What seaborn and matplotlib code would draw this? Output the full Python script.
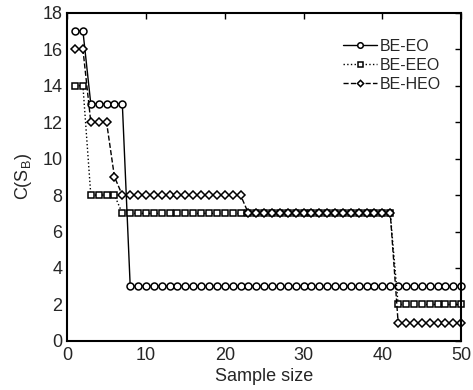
import numpy as np
import pandas as pd
import matplotlib
matplotlib.use('Agg')
import matplotlib.pyplot as plt
import seaborn as sns

sample_size = list(range(1, 51))
be_eo = [17, 17] + [13] * 5 + [3] * 43
be_eeo = [14, 14] + [8] * 4 + [7] * 35 + [2] * 9
be_heo = [16, 16] + [12] * 3 + [9] + [8] * 16 + [7] * 19 + [1] * 9

names = ['BE-EO', 'BE-EEO', 'BE-HEO']
df = pd.DataFrame({
    'x': sample_size * 3,
    'y': be_eo + be_eeo + be_heo,
    'method': sum([[n] * 50 for n in names], []),
})

sns.set_style('white')
plt.rcParams['font.family'] = ['Liberation Sans', 'DejaVu Sans']
plt.rcParams['mathtext.fontset'] = 'custom'
plt.rcParams['mathtext.rm'] = 'Liberation Sans'

fig = plt.figure(figsize=(4.73, 3.9), dpi=100)
ax = fig.add_axes([0.142, 0.126, 0.833, 0.841])

styles = {'BE-EO': '-', 'BE-EEO': ':', 'BE-HEO': '--'}
marks = {'BE-EO': 'o', 'BE-EEO': 's', 'BE-HEO': 'D'}
sizes = {'BE-EO': 5, 'BE-EEO': 4.5, 'BE-HEO': 4}
for n in names:
    sub = df[df['method'] == n]
    sns.lineplot(data=sub, x='x', y='y', ax=ax, color='black', lw=1,
                 linestyle=styles[n], marker=marks[n], ms=sizes[n],
                 markerfacecolor='white', markeredgecolor='black',
                 markeredgewidth=1.1, label=n, clip_on=False, zorder=3)

ax.set_xlim(0, 50)
ax.set_ylim(0, 18)
ax.set_xticks([0, 10, 20, 30, 40, 50])
ax.set_yticks(range(0, 19, 2))
ax.tick_params(direction='in', length=4, width=1, top=True, right=True,
               labelsize=13, color='black')
ax.tick_params(axis='x', pad=4.5)
ax.tick_params(axis='y', pad=3.5)
for s in ax.spines.values():
    s.set_linewidth(1.5)
    s.set_color('black')
    s.set_zorder(4)
ax.set_xlabel('Sample size', fontsize=13, labelpad=3)
ax.set_ylabel(r'C(S$_\mathrm{B}$)', fontsize=13, labelpad=6)

leg = ax.legend(loc='upper left', bbox_to_anchor=(0.685, 0.94), frameon=False,
                fontsize=11.5, handlelength=2.1, handletextpad=0.15,
                labelspacing=0.25, borderaxespad=0.0, markerscale=0.8)

fig.savefig('out.png', dpi=100)
